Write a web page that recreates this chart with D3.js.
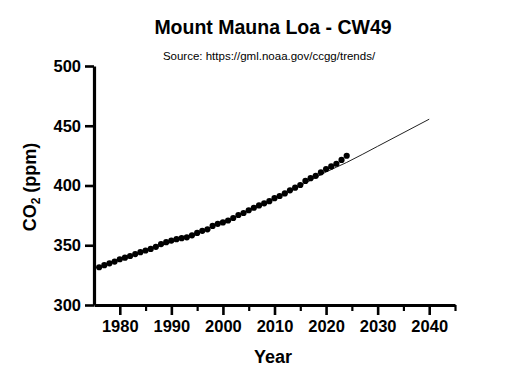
<!DOCTYPE html>
<html lang="en">
<head>
  <meta charset="UTF-8">
  <title>Mount Mauna Loa - CW49</title>
  <script src="https://d3js.org/d3.v7.min.js"></script>
  <style>
    body {
      margin: 0;
      background: #fff;
      font-family: Arial, "Liberation Sans", sans-serif;
    }
    .axis path, .axis line {
      stroke: #000;
    }
  </style>
</head>
<body>
  <div id="chart"></div>

  <script>
    // Annual mean CO2 at Mauna Loa (ppm)
    const years = [1976, 1977, 1978, 1979, 1980, 1981, 1982, 1983, 1984, 1985,
      1986, 1987, 1988, 1989, 1990, 1991, 1992, 1993, 1994, 1995,
      1996, 1997, 1998, 1999, 2000, 2001, 2002, 2003, 2004, 2005,
      2006, 2007, 2008, 2009, 2010, 2011, 2012, 2013, 2014, 2015,
      2016, 2017, 2018, 2019, 2020, 2021, 2022, 2023, 2024];
    const co2 = [331.6, 333.3, 334.9, 336.3, 338.3, 339.6, 341.0, 342.6, 344.2, 345.6,
      346.9, 348.7, 351.0, 352.6, 353.9, 355.1, 355.9, 356.6, 358.3, 360.3,
      362.1, 363.3, 366.2, 367.9, 369.1, 370.7, 372.8, 375.3, 377.0, 379.3,
      381.4, 383.3, 385.1, 386.9, 389.4, 391.2, 393.4, 396.0, 398.2, 400.4,
      403.8, 406.1, 408.1, 411.0, 413.8, 416.0, 418.2, 421.4, 424.9];

    // fitted trend line
    const fitYears = [1976, 1985, 1995, 2005, 2015, 2020, 2024, 2030, 2040];
    const fitCo2 = [331.6, 345.3, 360.2, 378.8, 399.8, 411.3, 419.3, 432.8, 455.5];

    const xTicks = [1980, 1990, 2000, 2010, 2020, 2030, 2040];
    const xMinorTicks = [1985, 1995, 2005, 2015, 2025, 2035, 2045];
    const yTicks = [300, 350, 400, 450, 500];

    const width = 511;
    const height = 387;

    const svg = d3.select("#chart")
      .append("svg")
      .attr("width", width)
      .attr("height", height);

    const x = d3.scaleLinear().domain([1975, 2045]).range([94, 455]);
    const y = d3.scaleLinear().domain([300, 500]).range([305, 66]);

    // Title
    svg.append("text")
      .attr("x", 273)
      .attr("y", 34)
      .attr("text-anchor", "middle")
      .attr("font-size", "19.5px")
      .attr("font-weight", "bold")
      .text("Mount Mauna Loa - CW49");

    svg.append("text")
      .attr("x", 269)
      .attr("y", 60)
      .attr("text-anchor", "middle")
      .attr("font-size", "11.5px")
      .text("Source: https://gml.noaa.gov/ccgg/trends/");

    // Fit line
    const line = d3.line()
      .x((d, i) => x(fitYears[i]))
      .y(d => y(d))
      .curve(d3.curveMonotoneX);

    svg.append("path")
      .datum(fitCo2)
      .attr("fill", "none")
      .attr("stroke", "#222")
      .attr("stroke-width", 1)
      .attr("d", line);

    // Points
    svg.selectAll("circle")
      .data(co2)
      .enter()
      .append("circle")
      .attr("cx", (d, i) => x(years[i]))
      .attr("cy", d => y(d))
      .attr("r", 3.1)
      .attr("fill", "#000");

    // X axis
    const xAxis = svg.append("g")
      .attr("class", "axis")
      .attr("transform", `translate(0,${y(300)})`)
      .call(d3.axisBottom(x).tickValues(xTicks).tickFormat(d3.format("d")).tickSize(10).tickSizeOuter(0).tickPadding(5));
    xAxis.select(".domain").attr("stroke-width", 3.2);
    xAxis.selectAll(".tick line").attr("stroke-width", 2.6);
    xAxis.selectAll("text")
      .attr("font-family", "Arial, 'Liberation Sans', sans-serif")
      .attr("font-size", "16.5px")
      .attr("font-weight", "bold")
      .attr("fill", "#000");

    svg.append("g")
      .attr("class", "axis")
      .attr("transform", `translate(0,${y(300)})`)
      .call(d3.axisBottom(x).tickValues(xMinorTicks).tickFormat("").tickSize(6).tickSizeOuter(0))
      .call(g => g.select(".domain").remove())
      .selectAll(".tick line").attr("stroke-width", 2.2);

    // Y axis
    const yAxis = svg.append("g")
      .attr("class", "axis")
      .attr("transform", `translate(${x(1975)},0)`)
      .call(d3.axisLeft(y).tickValues(yTicks).tickSize(9).tickSizeOuter(0).tickPadding(4));
    yAxis.select(".domain").attr("stroke-width", 3.2);
    yAxis.selectAll(".tick line").attr("stroke-width", 2.6);
    yAxis.selectAll("text")
      .attr("font-family", "Arial, 'Liberation Sans', sans-serif")
      .attr("font-size", "16.5px")
      .attr("font-weight", "bold")
      .attr("fill", "#000");

    // Axis titles
    svg.append("text")
      .attr("x", 273)
      .attr("y", 363)
      .attr("text-anchor", "middle")
      .attr("font-size", "18px")
      .attr("font-weight", "bold")
      .text("Year");

    const yLabel = svg.append("text")
      .attr("transform", "translate(36,187) rotate(-90)")
      .attr("text-anchor", "middle")
      .attr("font-size", "18px")
      .attr("font-weight", "bold");
    yLabel.append("tspan").text("CO");
    yLabel.append("tspan").attr("font-size", "12px").attr("dy", 4).text("2");
    yLabel.append("tspan").attr("dy", -4).text(" (ppm)");
  </script>
</body>
</html>
